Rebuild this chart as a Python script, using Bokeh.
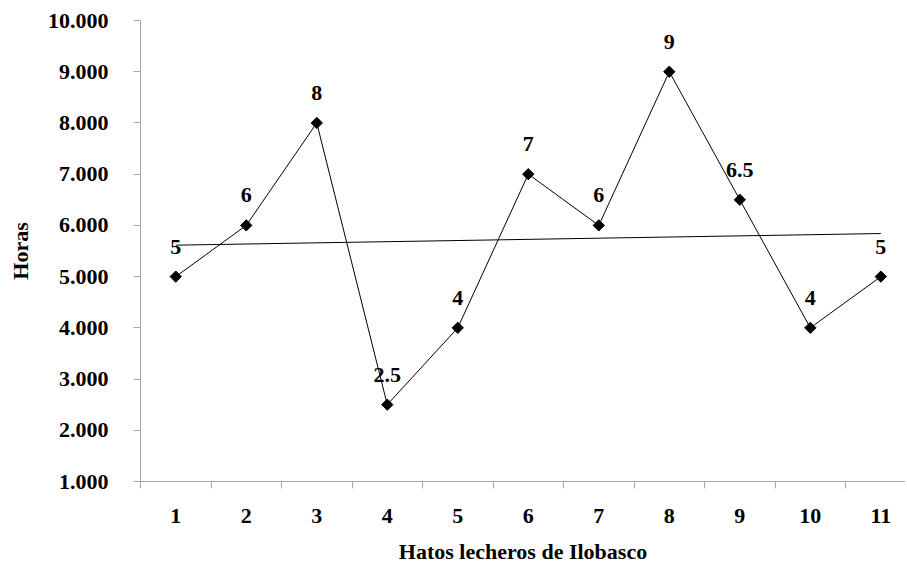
import numpy as np
from bokeh.plotting import figure
from bokeh.models import FixedTicker, Range1d, ColumnDataSource
from bokeh.embed import file_html
from bokeh.resources import INLINE

hatos = [1, 2, 3, 4, 5, 6, 7, 8, 9, 10, 11]
horas = [5, 6, 8, 2.5, 4, 7, 6, 9, 6.5, 4, 5]
etiquetas = ["5", "6", "8", "2.5", "4", "7", "6", "9", "6.5", "4", "5"]
y_ticks = [1, 2, 3, 4, 5, 6, 7, 8, 9, 10]
y_tick_labels = ["1.000", "2.000", "3.000", "4.000", "5.000", "6.000", "7.000", "8.000", "9.000", "10.000"]
x_tick_labels = [str(h) for h in hatos]

FONT = "Liberation Serif"
FS = "22px"
GRAY = "#A6A6A6"

p = figure(width=905, height=566, output_backend="svg", toolbar_location=None,
           x_range=Range1d(0.5, 11.35), y_range=Range1d(1, 10),
           min_border_left=140, min_border_top=20, min_border_bottom=84, min_border_right=0)
p.outline_line_color = None
p.xgrid.grid_line_color = None
p.ygrid.grid_line_color = None

# trend line (linear least squares)
slope, intercept = np.polyfit(hatos, horas, 1)
tx = [hatos[0], hatos[-1]]
ty = [slope * x + intercept for x in tx]
p.line(tx, ty, line_color="black", line_width=1)

src = ColumnDataSource(dict(x=hatos, y=horas, t=etiquetas))
p.line("x", "y", source=src, line_color="black", line_width=1)
p.scatter("x", "y", source=src, marker="square", size=8, angle=np.pi / 4,
          fill_color="black", line_color="black")
p.text("x", "y", text="t", source=src, text_align="center", text_baseline="middle",
       y_offset=-30, text_font={"value": FONT}, text_font_style="bold", text_font_size=FS,
       text_color="black")

# x axis
xa = p.xaxis[0]
xa.ticker = FixedTicker(ticks=hatos, minor_ticks=[h - 0.5 for h in hatos])
xa.major_label_overrides = {h: lab for h, lab in zip(hatos, x_tick_labels)}
xa.major_tick_out = 0
xa.major_tick_in = 0
xa.minor_tick_out = 7
xa.minor_tick_in = 0
xa.minor_tick_line_color = GRAY
xa.axis_line_color = GRAY
xa.major_label_standoff = 20
xa.major_label_text_font = FONT
xa.major_label_text_font_style = "bold"
xa.major_label_text_font_size = FS
xa.major_label_text_color = "black"
xa.axis_label = "Hatos lecheros de Ilobasco"
xa.axis_label_text_font = FONT
xa.axis_label_text_font_style = "bold"
xa.axis_label_text_font_size = FS
xa.axis_label_text_color = "black"
xa.axis_label_standoff = 13

# y axis
ya = p.yaxis[0]
ya.ticker = FixedTicker(ticks=y_ticks, minor_ticks=[])
ya.major_label_overrides = {t: lab for t, lab in zip(y_ticks, y_tick_labels)}
ya.major_tick_out = 7
ya.major_tick_in = 0
ya.major_tick_line_color = GRAY
ya.axis_line_color = GRAY
ya.major_label_standoff = 25
ya.major_label_text_font = FONT
ya.major_label_text_font_style = "bold"
ya.major_label_text_font_size = FS
ya.major_label_text_color = "black"
ya.axis_label = "Horas"
ya.axis_label_text_font = FONT
ya.axis_label_text_font_style = "bold"
ya.axis_label_text_font_size = FS
ya.axis_label_text_color = "black"
ya.axis_label_standoff = 12

open("out.html", "w").write(file_html(p, INLINE))
